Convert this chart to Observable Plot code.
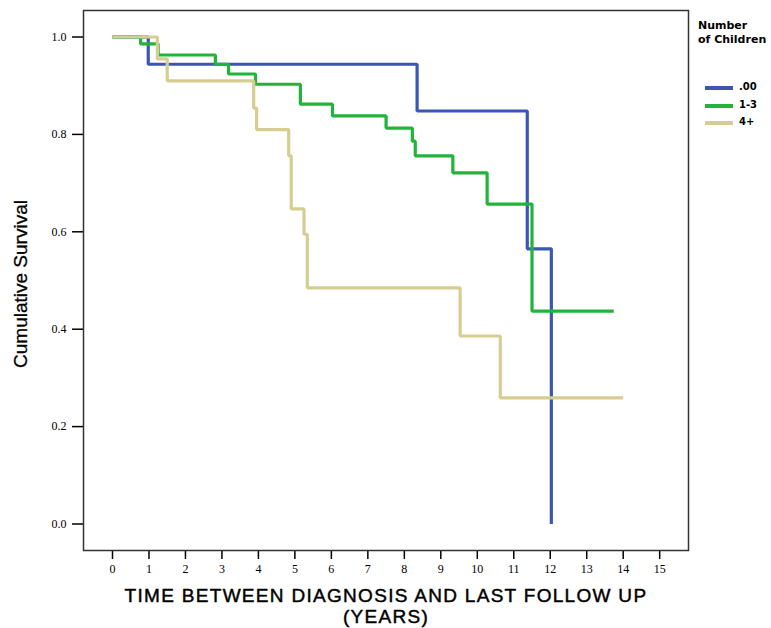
<!DOCTYPE html>
<html>
<head>
<meta charset="utf-8">
<script src="https://cdn.jsdelivr.net/npm/d3@7"></script>
<script src="https://cdn.jsdelivr.net/npm/@observablehq/plot@0.6"></script>
<style>
  html, body { margin: 0; padding: 0; background: #fff; }
  #wrap { position: relative; width: 771px; height: 628px; overflow: hidden; }
  #wrap svg { position: absolute; left: 0; top: 0; }
  .t { position: absolute; white-space: nowrap; color: #000; }
  .ytitle { font-family: "Liberation Sans", Arial, sans-serif; font-size: 19px; -webkit-text-stroke: 0.3px #000;
            left: 21px; top: 284px; transform: translate(-50%, -50%) rotate(-90deg); }
  .xtitle { font-family: "Liberation Sans", Arial, sans-serif; font-size: 19px; line-height: 21px; height: 21px;
            letter-spacing: 1.3px; -webkit-text-stroke: 0.45px #000; transform: translateX(-50%); text-align: center; }
  .lgtitle { font-family: "DejaVu Sans", Verdana, sans-serif; font-weight: bold; font-size: 11px;
             left: 698px; top: 19px; line-height: 14px; }
  .lgitem { font-family: "DejaVu Sans", Verdana, sans-serif; font-weight: bold; font-size: 10px; }
  .sw { position: absolute; width: 28px; height: 4px; }
</style>
</head>
<body>
<div id="wrap"></div>
<script>
// Categories (legend)
const groups = [".00", "1-3", "4+"];
const colors = ["#3c56b4", "#22b43a", "#d6ce90"];

// Kaplan-Meier step points (time in years, cumulative survival after step)
const tNone = [0, 0.98, 8.35, 11.37, 12.03];
const sNone = [1.0, 0.944, 0.848, 0.565, 0.0];

const tMid = [0, 0.77, 1.25, 2.82, 3.18, 3.92, 5.15, 6.03, 7.5, 8.22, 8.3, 9.33, 10.27, 11.5, 13.74];
const sMid = [1.0, 0.986, 0.963, 0.944, 0.924, 0.903, 0.862, 0.838, 0.813, 0.786, 0.756, 0.721, 0.657, 0.437, 0.437];

const tMany = [0, 1.23, 1.5, 3.87, 3.95, 4.83, 4.9, 5.25, 5.34, 9.53, 10.63, 14.0];
const sMany = [1.0, 0.955, 0.91, 0.854, 0.81, 0.756, 0.647, 0.595, 0.485, 0.386, 0.259, 0.259];

// Tick labels
const xTicks = [0, 1, 2, 3, 4, 5, 6, 7, 8, 9, 10, 11, 12, 13, 14, 15];
const yTicks = [0, 0.2, 0.4, 0.6, 0.8, 1.0];

const series = [[tNone, sNone], [tMid, sMid], [tMany, sMany]];
const data = series.flatMap(([t, s], i) => t.map((v, j) => ({group: groups[i], t: v, s: s[j]})));

const chart = Plot.plot({
  width: 771,
  height: 628,
  marginLeft: 83,
  marginRight: 83,
  marginTop: 10,
  marginBottom: 78,
  style: {background: "white", fontFamily: "'Liberation Serif', 'Times New Roman', serif", fontSize: "12px", color: "#000"},
  x: {domain: [-0.795, 15.79]},
  y: {domain: [-0.0544, 1.0544]},
  color: {domain: groups, range: colors},
  marks: [
    Plot.axisX({ticks: xTicks, tickSize: 9, tickPadding: 5, tickFormat: d => String(d), label: null, strokeWidth: 1.5}),
    Plot.axisY({ticks: yTicks, tickSize: 11, tickPadding: 6, tickFormat: d3.format(".1f"), label: null, strokeWidth: 1.5, style: {letterSpacing: "1.5px"}}),
    Plot.line(data, {x: "t", y: "s", z: "group", stroke: "group", curve: "step-after", strokeWidth: 3.2, strokeLinejoin: "miter", strokeLinecap: "butt"}),
    Plot.frame({stroke: "#333", strokeWidth: 1.5})
  ]
});

const wrap = document.getElementById("wrap");
wrap.appendChild(chart);

function addText(cls, html, style) {
  const d = document.createElement("div");
  d.className = "t " + cls;
  d.innerHTML = html;
  if (style) Object.assign(d.style, style);
  wrap.appendChild(d);
  return d;
}
addText("ytitle", "Cumulative Survival");
addText("xtitle", "TIME BETWEEN DIAGNOSIS AND LAST FOLLOW UP", {left: "386px", top: "585px"});
addText("xtitle", "(YEARS)", {left: "386px", top: "606px"});
addText("lgtitle", "Number<br>of Children");
const lgY = [88, 106, 123];
groups.forEach((g, i) => {
  const sw = document.createElement("div");
  sw.className = "sw";
  Object.assign(sw.style, {left: "705px", top: (lgY[i] - 2) + "px", background: colors[i]});
  wrap.appendChild(sw);
  addText("lgitem", g, {left: "739px", top: (lgY[i] - 7) + "px"});
});
</script>
</body>
</html>
